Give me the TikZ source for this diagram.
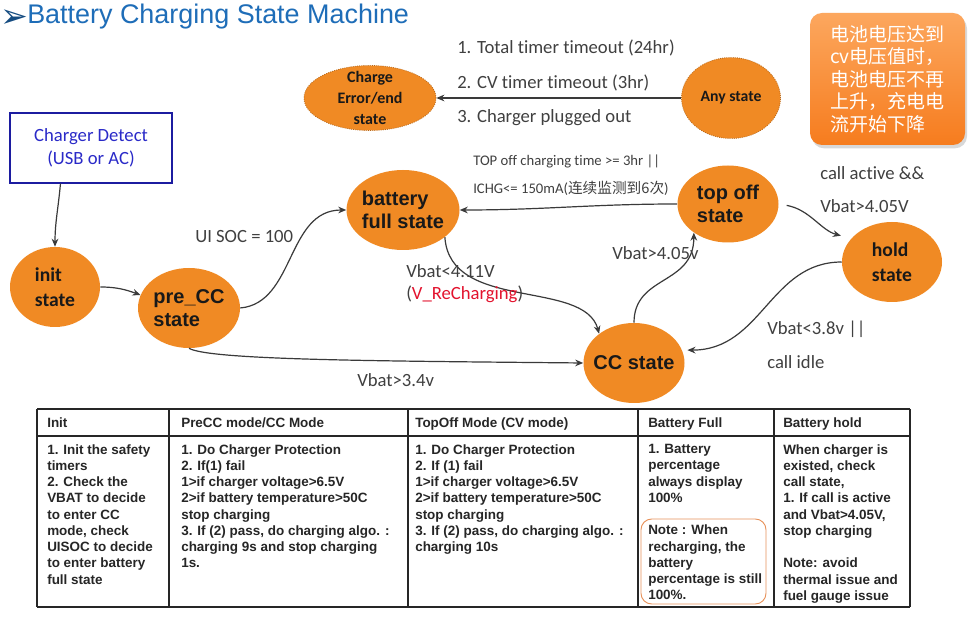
\documentclass[tikz,border=0pt]{standalone}
\usepackage{fontspec}
\setmainfont{Carlito}[Ligatures=CommonOff]
\newfontfamily\arialf{Liberation Sans}
\newfontfamily\cjk{Noto Sans CJK SC}
\newfontfamily\symf{DejaVu Sans}
\usepackage{xcolor}
\usepackage{tikz}
\usetikzlibrary{arrows.meta,positioning,calc,shapes.geometric,shadows}
\definecolor{smorange}{HTML}{F08A24}
\definecolor{smedge}{HTML}{3A3A3A}
\definecolor{smtext}{HTML}{404040}
\definecolor{smblue}{HTML}{1E6DB8}
\definecolor{smdet}{HTML}{2A2AC8}
\definecolor{smdetb}{HTML}{1C1CA0}
\definecolor{smred}{HTML}{E3132E}
\definecolor{smnote}{HTML}{E8935C}
\definecolor{smcallA}{HTML}{FCA75E}
\definecolor{smcallB}{HTML}{F67C1E}
\tikzset{
  st/.style   = {ellipse, fill=smorange, inner sep=-6pt, align=left, text=black!90,
                 font=\arialf\bfseries\fontsize{15}{17.3}\selectfont},
  stc/.style  = {st, font=\bfseries\fontsize{14.7}{18.8}\selectfont},
  sto/.style  = {st, draw=smorange!75!black, densely dotted, line width=0.6pt,
                 align=center, font=\bfseries\fontsize{12}{16}\selectfont},
  det/.style  = {rectangle, draw=smdetb, line width=0.8pt, text=smdet, align=center,
                 font=\fontsize{14}{17.25}\selectfont},
  ed/.style   = {-{Stealth[length=6pt,width=5pt]}, draw=smedge, line width=0.9pt},
  lbl/.style  = {anchor=west, inner sep=0pt, text=smtext, font=\fontsize{14}{16}\selectfont},
  lbls/.style = {lbl, font=\fontsize{11}{13}\selectfont},
  th/.style   = {anchor=north west, inner sep=0pt, text=black!85,
                 font=\arialf\bfseries\fontsize{10.1}{12.2}\selectfont},
  td/.style   = {th, align=left},
  tline/.style = {draw=black!85, line width=0.8pt},
}

\begin{document}
\begin{tikzpicture}[x=0.75pt,y=-0.75pt]
  \useasboundingbox (0,0) rectangle (971,630);
  \fill[white] (0,0) rectangle (971,630);
  % title
  \node[anchor=west, inner sep=0pt, text=smblue, font=\arialf\fontsize{20.2}{24}\selectfont]
    (title) at (27,17) {Battery Charging State Machine};
  \node[anchor=east, inner sep=0pt, text=smblue!70!black, font=\symf\fontsize{25}{26}\selectfont]
    (mark) at ([xshift=1pt,yshift=-1pt]title.west) {➢};

  % states
  \node[det, minimum width=121.5pt, minimum height=52.5pt] (det) at (91,148) {Charger Detect\\(USB or AC)};
  \node[stc, minimum width=67.5pt, minimum height=60pt] (init) at (55,287) {init\\state};
  \node[st, minimum width=76.5pt, minimum height=60pt] (precc) at (189,308) {pre\_CC\\state};
  \node[st, minimum width=84.75pt, minimum height=60pt] (full) at (403,210) {battery\\full state};
  \node[st, minimum width=75.75pt, minimum height=57.75pt] (topoff) at (728,204) {top off\\state};
  \node[stc, minimum width=75pt, minimum height=60pt] (hold) at (892,262) {hold\\state};
  \node[st, minimum width=75.75pt, minimum height=60pt] (cc) at (634,363) {CC state};
  \node[sto, minimum width=99pt, minimum height=48.75pt] (err) at (370,98) {Charge\\Error/end\\state};
  \node[sto, minimum width=74.25pt, minimum height=60.75pt, font=\bfseries\fontsize{11.8}{14}\selectfont]
    (anyst) at (731,98) {Any state};

  % callout
  \node[rectangle, rounded corners=9pt, top color=smcallA, bottom color=smcallB,
        drop shadow={opacity=0.3,shadow xshift=1.5pt,shadow yshift=-2.5pt},
        minimum width=116.25pt, minimum height=99pt, text=white, align=left, inner sep=0pt,
        font=\cjk\fontsize{14.25}{16.9}\selectfont]
    (call) at (887.5,79) {电池电压达到\\cv电压值时，\\电池电压不再\\上升，充电电\\流开始下降};

  % transitions
  \draw[ed] ($(det.south west)+(51,0)$) to[out=-95,in=90] (init.north);
  \draw[ed] (init.east) to[out=0,in=160] (precc.165);
  \draw[ed] (precc.east) .. controls +(55,-5) and +(-60,0) .. (full.west);
  \draw[ed] (precc.south) .. controls +(20,12) and +(-200,-2) .. (cc.west);
  \draw[ed] (full.-33) .. controls +(5,75) and +(-15,-55) .. (cc.140);
  \draw[ed] (cc.north) .. controls +(0,-48) and +(0,53) .. (topoff.220);
  \draw[ed] (topoff.west) to[out=180,in=0] (full.east);
  \draw[ed, shorten <=6pt, shorten >=8pt] (topoff.east) to[out=-10,in=165] (hold.150);
  \draw[ed, shorten >=4pt] (hold.west) .. controls +(-72,0) and +(80,0) .. (cc.15);
  \draw[ed] (anyst.west) -- (err.east);

  % conditions
  \node[lbl] (lsoc) at (195,237) {UI SOC = 100};
  \node[lbl] (lrc1) at (406,271) {Vbat<4.11V};
  \node[lbl] (lrc2) at (406,294) {(\textcolor{smred}{V\_ReCharging})};
  \node[lbl] (lcc) at (357,380) {Vbat>3.4v};
  \node[lbl] (ltop) at (612,253) {Vbat>4.05v};
  \node[lbls] (lfull1) at (473,161) {TOP off charging time >= 3hr ||};
  \node[lbls] (lfull2) at (473,188) {ICHG<= 150mA({\cjk 连续监测到6次})};
  \node[lbl] (lhold1) at (820,173) {call active \&\&};
  \node[lbl] (lhold2) at (820,206) {Vbat>4.05V};
  \node[lbl] (lidle1) at (767,329) {Vbat<3.8v ||};
  \node[lbl] (lidle2) at (767,362) {call idle};
  \node[lbl] (lerr1) at (457,48) {1. Total timer timeout (24hr)};
  \node[lbl] (lerr2) at (457,83) {2. CV timer timeout (3hr)};
  \node[lbl] (lerr3) at (457,118) {3. Charger plugged out};

  % table
  \draw[tline] (37,409) -- (910,409) (37,436) -- (910,436) (37,607) -- (910,607);
  \foreach \x in {37,169,408,638,774,910}{ \draw[tline] (\x,409) -- (\x,607); }
  \node[th] (h1) at (47,417) {Init};
  \node[th] (h2) at (181,417) {PreCC mode/CC Mode};
  \node[th] (h3) at (415,417) {TopOff Mode (CV mode)};
  \node[th] (h4) at (648,417) {Battery Full};
  \node[th] (h5) at (783,417) {Battery hold};
  \node[td] (c1) at (47,444) {1. Init the safety\\timers\\2. Check the\\VBAT to decide\\to enter CC\\mode, check\\UISOC to decide\\to enter battery\\full state};
  \node[td] (c2) at (181,444) {1. Do Charger Protection\\2. If(1) fail\\1>if charger voltage>6.5V\\2>if battery temperature>50C\\stop charging\\3. If (2) pass, do charging algo. :\\charging 9s and stop charging\\1s.};
  \node[td] (c3) at (415,444) {1. Do Charger Protection\\2. If (1) fail\\1>if charger voltage>6.5V\\2>if battery temperature>50C\\stop charging\\3. If (2) pass, do charging algo. :\\charging 10s};
  \node[td] (c4) at (648,444) {1. Battery\\percentage\\always display\\100\%\\[12.2pt]Note : When\\recharging, the\\battery\\percentage is still\\100\%.};
  \node[td] (c5) at (783,444) {When charger is\\existed, check\\call state,\\1. If call is active\\and Vbat>4.05V,\\stop charging\\[12.2pt]Note: avoid\\thermal issue and\\fuel gauge issue};
  \node[draw=smnote, line width=0.7pt, rounded corners=8pt, minimum width=93.75pt,
        minimum height=63.75pt, inner sep=0pt] (note) at (703.5,561.5) {};
\end{tikzpicture}
\end{document}
